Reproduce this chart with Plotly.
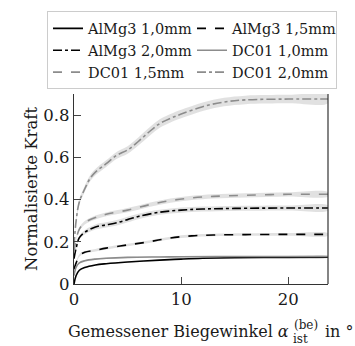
import plotly.graph_objects as go

# Data
x_alm10 = [0, 0.2, 0.5, 1, 2, 3, 5, 8, 10, 12, 15, 20, 23.7]
y_alm10 = [0.0, 0.04, 0.065, 0.078, 0.09, 0.096, 0.104, 0.113, 0.118, 0.122, 0.125, 0.126, 0.127]
s_alm10 = [0.003] * 13

x_alm15 = [0, 0.2, 0.5, 1, 2, 3, 5, 7, 9, 11, 13, 16, 20, 23.7]
y_alm15 = [0.07, 0.1, 0.135, 0.15, 0.16, 0.17, 0.185, 0.2, 0.218, 0.228, 0.232, 0.234, 0.235, 0.235]
s_alm15 = [0.006] * 14

x_alm20 = [0, 0.2, 0.5, 1, 2, 3, 4, 5, 6, 8, 10, 12, 15, 20, 23.7]
y_alm20 = [0.12, 0.17, 0.22, 0.245, 0.27, 0.28, 0.29, 0.305, 0.32, 0.34, 0.35, 0.355, 0.358, 0.36, 0.36]
s_alm20 = [0.004, 0.006, 0.008, 0.01, 0.012, 0.012, 0.013, 0.013, 0.013, 0.012, 0.012, 0.012, 0.012, 0.012, 0.012]

x_dc10 = [0, 0.2, 0.5, 1, 2, 3, 5, 8, 10, 15, 20, 23.7]
y_dc10 = [0.04, 0.08, 0.1, 0.11, 0.118, 0.122, 0.126, 0.128, 0.129, 0.13, 0.13, 0.13]
s_dc10 = [0.003] * 12

x_dc15 = [0, 0.2, 0.5, 1, 2, 3, 5, 7, 9, 11, 13, 16, 20, 23.7]
y_dc15 = [0.15, 0.21, 0.26, 0.29, 0.315, 0.33, 0.35, 0.375, 0.395, 0.408, 0.415, 0.42, 0.425, 0.425]
s_dc15 = [0.004, 0.006, 0.008, 0.008, 0.009, 0.009, 0.01, 0.01, 0.01, 0.01, 0.01, 0.01, 0.01, 0.01]

x_dc20 = [0, 0.2, 0.5, 1, 1.5, 2, 3, 4, 5, 6, 7, 8, 9, 10, 12, 14, 16, 20, 23.7]
y_dc20 = [0.18, 0.3, 0.39, 0.45, 0.5, 0.53, 0.57, 0.61, 0.635, 0.675, 0.72, 0.76, 0.785, 0.805, 0.84, 0.862, 0.872, 0.876, 0.876]
s_dc20 = [0.006, 0.01, 0.012, 0.014, 0.015, 0.015, 0.016, 0.017, 0.018, 0.019, 0.02, 0.02, 0.02, 0.02, 0.02, 0.02, 0.02, 0.02, 0.02]

names = ["AlMg3 1,0mm", "AlMg3 1,5mm", "AlMg3 2,0mm", "DC01 1,0mm", "DC01 1,5mm", "DC01 2,0mm"]
xs = [x_alm10, x_alm15, x_alm20, x_dc10, x_dc15, x_dc20]
ys = [y_alm10, y_alm15, y_alm20, y_dc10, y_dc15, y_dc20]
ss = [s_alm10, s_alm15, s_alm20, s_dc10, s_dc15, s_dc20]
colors = ["#000000", "#000000", "#000000", "#8c8c8c", "#8c8c8c", "#8c8c8c"]
dashes = ["solid", "dash", "dashdot", "solid", "dash", "dashdot"]

FONT = "DejaVu Serif"
TXT = "#1a1a1a"
fig = go.Figure()

# std bands
for x, y, s in zip(xs, ys, ss):
    up = [a + b for a, b in zip(y, s)]
    lo = [a - b for a, b in zip(y, s)]
    fig.add_trace(go.Scatter(
        x=x + x[::-1], y=up + lo[::-1], fill="toself", mode="lines",
        line=dict(width=0, shape="spline"), fillcolor="rgba(200,200,200,0.55)",
        showlegend=False, hoverinfo="skip"))

for n, x, y, c, d in zip(names, xs, ys, colors, dashes):
    fig.add_trace(go.Scatter(
        x=x, y=y, name=n, mode="lines",
        line=dict(color=c, dash=d, width=1.6, shape="spline")))

L, R, T, B = 74, 27, 86, 62
W, H = 355, 346
PW, PH = W - L - R, H - T - B


def px(xp):
    return (xp - L) / PW


def py(yp):
    return (H - B - yp) / PH


fig.update_layout(
    width=W, height=H,
    margin=dict(l=L, r=R, t=T, b=B),
    paper_bgcolor="white", plot_bgcolor="white",
    font=dict(family=FONT, size=16.5, color=TXT),
    legend=dict(
        orientation="h", x=px(47), y=py(0), xanchor="left", yanchor="top",
        bordercolor="#cccccc", borderwidth=1, bgcolor="white",
        entrywidth=99, entrywidthmode="pixels",
        font=dict(family=FONT, size=14.5, color=TXT),
        tracegroupgap=0, itemwidth=30),
    xaxis=dict(
        range=[0, 23.7], tickvals=[0, 10, 20], ticks="inside", ticklen=7,
        showgrid=False, zeroline=False, showline=True, linecolor="#333",
        linewidth=1.2, tickfont=dict(size=16.5)),
    yaxis=dict(
        range=[0, 0.9], tickvals=[0, 0.2, 0.4, 0.6, 0.8],
        ticktext=["0", "0.2", "0.4", "0.6", "0.8"], ticks="inside", ticklen=7,
        showgrid=False, zeroline=False, showline=True, linecolor="#333",
        linewidth=1.2, tickfont=dict(size=16.5),
        title=dict(text="Normalisierte Kraft", standoff=1, font=dict(size=16.5))),
)
# right frame line
fig.add_shape(type="line", xref="paper", yref="paper", x0=1, x1=1, y0=0, y1=1,
              line=dict(color="#333", width=1.2))


def label(text, xp, yp, size, anchor):
    fig.add_annotation(text=text, x=px(xp), y=py(yp), xref="paper", yref="paper",
                       xanchor=anchor, yanchor="middle", showarrow=False,
                       font=dict(family=FONT, color=TXT, size=size))


# x-axis title with stacked super/subscript
label("Gemessener Biegewinkel <i>α</i>", 291, 334, 16, "right")
label("(be)", 292, 327, 12, "left")
label("ist", 291, 341, 12, "left")
label("in °", 356, 334, 16, "right")

fig.write_html("out.html")
